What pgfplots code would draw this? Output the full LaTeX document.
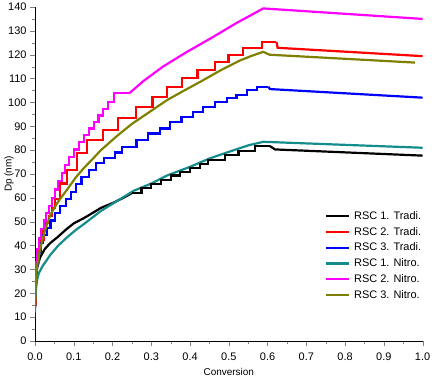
\documentclass[border=0pt]{standalone}
\usepackage{pgfplots}
\pgfplotsset{compat=1.18}
\usepackage{fontspec}
\setmainfont{Liberation Sans}
\definecolor{cteal}{RGB}{20,140,140}
\definecolor{colive}{RGB}{128,128,0}
\definecolor{cmag}{RGB}{255,0,255}
\definecolor{cred}{RGB}{255,0,0}
\definecolor{cblue}{RGB}{0,0,255}
\begin{document}
\begin{tikzpicture}
\begin{axis}[
  name=ax,
  width=387.6bp, height=334bp, scale only axis,
  xmin=0, xmax=1, ymin=0, ymax=140,
  axis lines*=left,
  tick align=outside,
  xtick={0,0.1,...,1.0}, ytick={0,10,...,140},
  minor x tick num=1, minor y tick num=1,
  major tick length=5bp, minor tick length=3bp,
  /pgf/number format/assume math mode=true,
  tick label style={font=\fontsize{11}{13}\selectfont},
  xticklabel style={/pgf/number format/fixed, /pgf/number format/fixed zerofill, /pgf/number format/precision=1, yshift=-3bp},
  label style={font=\fontsize{11}{13}\selectfont},
  xlabel={Conversion}, ylabel={Dp (nm)},
  every axis x label/.style={at={(axis description cs:0.5,0)}, anchor=center, yshift=-31bp},
  every axis y label/.style={at={(axis description cs:0,0.5)}, xshift=-26bp, rotate=90, anchor=center},
  every axis plot/.append style={line width=2.2bp, line join=miter},
  legend style={draw=none, fill=none, font=\fontsize{11}{13}\selectfont,
    at={(axis cs:0.745,55.7)}, anchor=north west, row sep=2.4bp, inner sep=1bp},
  legend cell align=left,
  legend image code/.code={\draw[#1] (0bp,0bp) -- (23bp,0bp); \path (25bp,0bp);},
]
% RSC 1 Tradi (black)
\addplot[black] coordinates {(0,14) (0.002,26) (0.006,31) (0.013,35) (0.025,38.5) (0.039,41) (0.058,43.5) (0.082,47) (0.1,49.3) (0.126,51.5) (0.15,53.8) (0.17,55.8) (0.2,57.8) (0.228,60) (0.25,62)};
\addlegendentry{RSC 1. Tradi.}
% RSC 2 Tradi (red)
\addplot[cred, const plot] coordinates {(0,15) (0.002,27) (0.005,33) (0.009,38) (0.015,42.5) (0.022,46) (0.029,49.5) (0.036,52.5) (0.044,55.8) (0.052,59.5) (0.064,66) (0.083,71.7) (0.109,78.7) (0.135,84.2) (0.176,88.5) (0.215,93.5) (0.26,98.2) (0.303,102.4) (0.341,106.6) (0.380,110.1) (0.419,113.6) (0.464,117) (0.499,119.9) (0.537,122.7) (0.585,125.4) (0.623,125.4)};
\addlegendentry{RSC 2. Tradi.}
% RSC 3 Tradi (blue)
\addplot[cblue, const plot] coordinates {(0,10) (0.001,25) (0.004,32) (0.008,37) (0.014,41) (0.021,44.5) (0.03,47.5) (0.04,50.5) (0.052,53.5) (0.065,56.5) (0.08,59.5) (0.092,62.5) (0.105,65.8) (0.12,68.8) (0.14,71.7) (0.158,74.5) (0.178,76.8) (0.206,79) (0.225,81.4) (0.262,84.2) (0.292,87) (0.322,89.1) (0.348,91.9) (0.378,94) (0.408,96.1) (0.434,98.2) (0.464,100.3) (0.495,101.7) (0.520,103.1) (0.546,105.2) (0.572,106.6) (0.602,106.6)};
\addlegendentry{RSC 3. Tradi.}
% RSC 1 Nitro (teal)
\addplot[cteal] coordinates {(0,12) (0.001,18) (0.003,22.5) (0.006,26) (0.01,28.5) (0.02,31.5) (0.039,36) (0.06,40) (0.083,43.5) (0.105,46.5) (0.126,49) (0.15,52) (0.17,54.5) (0.2,57.5) (0.255,63) (0.3,66) (0.341,69.4) (0.4,73) (0.45,76.5) (0.513,80) (0.55,82) (0.589,83.5) (1.0,81)};
\addlegendentry{RSC 1. Nitro.}
% RSC 2 Nitro (magenta)
\addplot[cmag, const plot] coordinates {(0,15) (0.001,27) (0.003,33) (0.006,38.5) (0.01,43) (0.016,47) (0.023,50.5) (0.029,53.5) (0.036,56.5) (0.043,60) (0.051,63.5) (0.06,67) (0.069,70.3) (0.078,73.8) (0.088,77.2) (0.101,80.3) (0.114,83.5) (0.126,86.3) (0.139,89.1) (0.152,91.9) (0.164,94.5) (0.176,97.3) (0.189,100.3) (0.204,103.8) (0.243,103.8)};
\addlegendentry{RSC 2. Nitro.}
% RSC 3 Nitro (olive)
\addplot[colive] coordinates {(0,15) (0.002,26) (0.006,32) (0.012,37.5) (0.02,43) (0.03,48.5) (0.04,53) (0.06,58.5) (0.083,63.5) (0.105,68.5) (0.126,72.5) (0.15,76.5) (0.17,80) (0.212,86) (0.25,91) (0.3,96.5) (0.341,101) (0.385,105) (0.427,108.7) (0.477,113.3) (0.529,117.6) (0.56,119.6) (0.589,121.2) (0.605,120) (0.98,116.7)};
\addlegendentry{RSC 3. Nitro.}
% continuations (no legend)
\addplot[black, const plot, forget plot] coordinates {(0.25,62) (0.275,64) (0.3,65.8) (0.325,67.6) (0.35,69.4) (0.375,71) (0.4,72.6) (0.425,74.3) (0.447,75.9) (0.49,78) (0.525,79.6) (0.568,81.7) (0.606,81.7)};
\addplot[black, forget plot] coordinates {(0.606,81.7) (0.619,80.3) (1.0,77.7)};
\addplot[cred, forget plot] coordinates {(0.623,125.4) (0.626,122.9) (1.0,119.4)};
\addplot[cblue, forget plot] coordinates {(0.602,106.6) (0.606,105.6) (1.0,102)};
\addplot[cmag, forget plot] coordinates {(0.243,103.8) (0.28,109) (0.33,115) (0.39,121) (0.46,127.5) (0.52,133.3) (0.589,139.4) (1.0,135)};
\end{axis}
\pgfresetboundingbox
\path[use as bounding box] ([shift={(-35bp,-38bp)}]ax.south west) rectangle ([shift={(9.4bp,7bp)}]ax.north east);
\end{tikzpicture}
\end{document}
